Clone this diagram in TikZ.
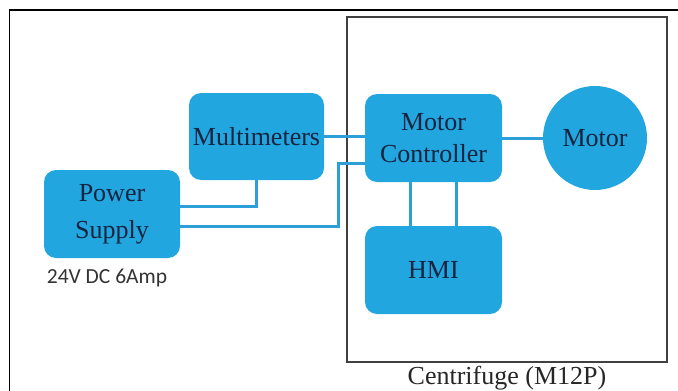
\documentclass[tikz,border=0pt]{standalone}
\usepackage{fontspec}
\setmainfont{Liberation Serif}
\newfontfamily\calibrifont{Carlito}
\usepackage{tikz}
\usetikzlibrary{positioning,
                calc}
\definecolor{blockblue}{HTML}{22A6E0}
\definecolor{wireblue}{HTML}{2C9FD8}
\definecolor{labelnavy}{HTML}{17243F}

\begin{document}
\begin{tikzpicture}[x=1pt,y=-1pt]

\tikzset{
unitbox/.style={
fill=blockblue,
rounded corners=12pt,
minimum width=136pt,
minimum height=88pt,
align=center,
text=labelnavy,
font=\fontsize{26}{32}\selectfont
},
wire/.style={
draw=wireblue,
line width=3pt
}
}

\useasboundingbox (0,0) rectangle (678,391);

%--------------------------------------------------
% FRAME
%--------------------------------------------------

\draw[line width=1.2pt] (9.5,391) -- (9.5,10) -- (678,10);

\node[draw=black!75,line width=1.3pt,minimum width=320pt,
minimum height=345pt,inner sep=0pt] (centri) at (507,189.5) {};
\node[font=\fontsize{26}{30}\selectfont,text=black!85] (centrilabel)
at (507,378) {Centrifuge (M12P)};

%--------------------------------------------------
% BLOCKS
%--------------------------------------------------

\node[unitbox,minimum width=135pt,minimum height=87pt] (multi)
at (256.5,136.5) {Multimeters};

\node[unitbox,minimum height=88pt,font=\fontsize{26}{37}\selectfont] (power)
at (112,214) {Power\\Supply};
\node[font=\calibrifont\fontsize{21.5}{24}\selectfont,text=black!80] (powerlabel)
at (107,278) {24V DC 6Amp};

\node[unitbox,minimum width=137pt] (ctrl)
at (433.5,138) {Motor\\Controller};

\node[unitbox,minimum width=137pt] (hmi)
at (433.5,270) {HMI};

\node[circle,fill=blockblue,minimum size=104pt,text=labelnavy,
font=\fontsize{26}{30}\selectfont] (motor)
at (595,138) {Motor};

%--------------------------------------------------
% WIRES
%--------------------------------------------------

\coordinate (bend) at (338,163);

\draw[wire] (multi.south) |- ([yshift=8pt]power.east);
\draw[wire] ([yshift=-12pt]power.east) -| (bend) -- (bend -| ctrl.west);
\draw[wire] (multi.east) -- (multi.east -| ctrl.west);
\draw[wire] (ctrl.east) -- (motor.west);
\draw[wire] ([xshift=-23pt]ctrl.south) -- ([xshift=-23pt]ctrl.south |- hmi.north);
\draw[wire] ([xshift=23pt]ctrl.south) -- ([xshift=23pt]ctrl.south |- hmi.north);

\end{tikzpicture}
\end{document}
